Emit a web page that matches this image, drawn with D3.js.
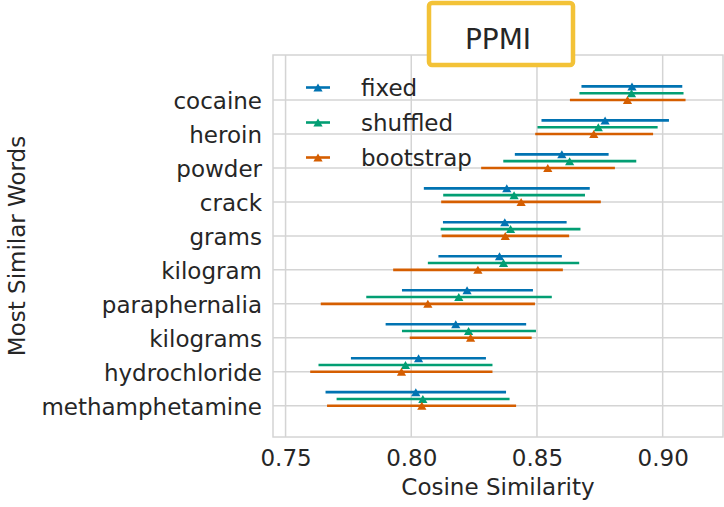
<!DOCTYPE html>
<html>
<head>
<meta charset="utf-8">
<script src="https://cdn.jsdelivr.net/npm/d3@7"></script>
<style>
  html, body { margin: 0; padding: 0; background: #fff; }
  svg { display: block; font-family: "DejaVu Sans", sans-serif; }
</style>
</head>
<body>
<svg id="chart" width="724" height="507"></svg>
<script>
// Words ranked by similarity to the query, top to bottom
const words = ["cocaine", "heroin", "powder", "crack", "grams", "kilogram",
               "paraphernalia", "kilograms", "hydrochloride", "methamphetamine"];

const seriesNames = ["fixed", "shuffled", "bootstrap"];

// Mean cosine similarity per word
const fixedMean     = [0.8878, 0.8771, 0.8599, 0.8380, 0.8372, 0.8351, 0.8222, 0.8177, 0.8029, 0.8018];
const shuffledMean  = [0.8876, 0.8744, 0.8630, 0.8409, 0.8395, 0.8367, 0.8189, 0.8228, 0.7977, 0.8046];
const bootstrapMean = [0.8860, 0.8726, 0.8543, 0.8437, 0.8374, 0.8265, 0.8066, 0.8236, 0.7961, 0.8042];

// Interval bounds per word
const fixedLow      = [0.8677, 0.8518, 0.8412, 0.8050, 0.8126, 0.8108, 0.7963, 0.7898, 0.7760, 0.7659];
const fixedHigh     = [0.9078, 0.9025, 0.8785, 0.8710, 0.8618, 0.8599, 0.8484, 0.8457, 0.8297, 0.8377];
const shuffledLow   = [0.8669, 0.8502, 0.8366, 0.8127, 0.8117, 0.8066, 0.7821, 0.7963, 0.7631, 0.7703];
const shuffledHigh  = [0.9083, 0.8980, 0.8895, 0.8691, 0.8673, 0.8668, 0.8559, 0.8496, 0.8323, 0.8391];
const bootstrapLow  = [0.8631, 0.8493, 0.8278, 0.8119, 0.8121, 0.7928, 0.7640, 0.7994, 0.7598, 0.7665];
const bootstrapHigh = [0.9091, 0.8962, 0.8810, 0.8754, 0.8628, 0.8603, 0.8492, 0.8479, 0.8323, 0.8417];

const xTicks = [0.75, 0.80, 0.85, 0.90];

const series = [
  { name: seriesNames[0], color: "#0173B2", offset: -0.4, mean: fixedMean,     low: fixedLow,     high: fixedHigh },
  { name: seriesNames[1], color: "#029E73", offset: -0.2, mean: shuffledMean,  low: shuffledLow,  high: shuffledHigh },
  { name: seriesNames[2], color: "#D55E00", offset:  0.0, mean: bootstrapMean, low: bootstrapLow, high: bootstrapHigh }
];

const svg = d3.select("#chart");
const plot = { left: 273, right: 723, top: 55, bottom: 437 };
const textColor = "#262626";
const gridColor = "#d4d4d4";

const x = d3.scaleLinear().domain([0.745, 0.924]).range([plot.left, plot.right]);
const y = d3.scaleLinear().domain([-1.325, 9.92]).range([plot.top, plot.bottom]);

// Grid
const grid = svg.append("g");
grid.selectAll("line.vx").data(xTicks).join("line")
  .attr("x1", d => x(d)).attr("x2", d => x(d))
  .attr("y1", plot.top).attr("y2", plot.bottom)
  .attr("stroke", gridColor).attr("stroke-width", 1.5);
grid.selectAll("line.hy").data(words).join("line")
  .attr("x1", plot.left).attr("x2", plot.right)
  .attr("y1", (d, i) => y(i)).attr("y2", (d, i) => y(i))
  .attr("stroke", gridColor).attr("stroke-width", 1.5);
svg.append("rect")
  .attr("x", plot.left).attr("y", plot.top)
  .attr("width", plot.right - plot.left).attr("height", plot.bottom - plot.top)
  .attr("fill", "none").attr("stroke", gridColor).attr("stroke-width", 1.5);

// Axes (labels only, no tick marks)
const xAxis = svg.append("g")
  .attr("transform", `translate(0,${plot.bottom})`)
  .call(d3.axisBottom(x).tickValues(xTicks).tickFormat(d3.format(".2f")).tickSize(0).tickPadding(29));
xAxis.select(".domain").remove();
xAxis.selectAll("text").attr("font-size", 23).attr("fill", textColor)
  .attr("font-family", "DejaVu Sans").attr("dy", 0);

const yAxis = svg.append("g")
  .attr("transform", `translate(${plot.left},0)`)
  .call(d3.axisLeft(y).tickValues(d3.range(words.length)).tickFormat(i => words[i]).tickSize(0).tickPadding(11));
yAxis.select(".domain").remove();
yAxis.selectAll("text").attr("font-size", 23).attr("fill", textColor)
  .attr("font-family", "DejaVu Sans").attr("dy", "0.36em");

// Interval lines and mean markers
const triangle = "M0,-4L4.6,4L-4.6,4Z";
series.forEach(s => {
  const g = svg.append("g");
  g.selectAll("line").data(words).join("line")
    .attr("x1", (d, i) => x(s.low[i])).attr("x2", (d, i) => x(s.high[i]))
    .attr("y1", (d, i) => y(i + s.offset)).attr("y2", (d, i) => y(i + s.offset))
    .attr("stroke", s.color).attr("stroke-width", 2.6);
  g.selectAll("path").data(words).join("path")
    .attr("d", triangle)
    .attr("transform", (d, i) => `translate(${x(s.mean[i])},${y(i + s.offset)})`)
    .attr("fill", s.color);
});

// Legend
const legend = svg.append("g");
series.forEach((s, k) => {
  const ly = 87.5 + k * 35;
  legend.append("line").attr("x1", 306).attr("x2", 330).attr("y1", ly).attr("y2", ly)
    .attr("stroke", s.color).attr("stroke-width", 2.6);
  legend.append("path").attr("d", triangle)
    .attr("transform", `translate(318,${ly})`).attr("fill", s.color);
  legend.append("text").attr("x", 361).attr("y", ly).attr("dy", "0.36em")
    .attr("font-size", 23).attr("fill", textColor).text(s.name);
});

// Axis titles
svg.append("text").attr("x", (plot.left + plot.right) / 2).attr("y", 495)
  .attr("text-anchor", "middle").attr("font-size", 23).attr("fill", textColor)
  .text("Cosine Similarity");
svg.append("text")
  .attr("transform", `translate(25,${(plot.top + plot.bottom) / 2}) rotate(-90)`)
  .attr("text-anchor", "middle").attr("font-size", 23).attr("fill", textColor)
  .text("Most Similar Words");

// Boxed title
svg.append("rect").attr("x", 429).attr("y", 3).attr("width", 144).attr("height", 62)
  .attr("rx", 3).attr("fill", "#fff").attr("stroke", "#F3C237").attr("stroke-width", 4.5);
svg.append("text").attr("x", 498).attr("y", 49).attr("text-anchor", "middle")
  .attr("font-size", 28).attr("fill", textColor).text("PPMI");
</script>
</body>
</html>
